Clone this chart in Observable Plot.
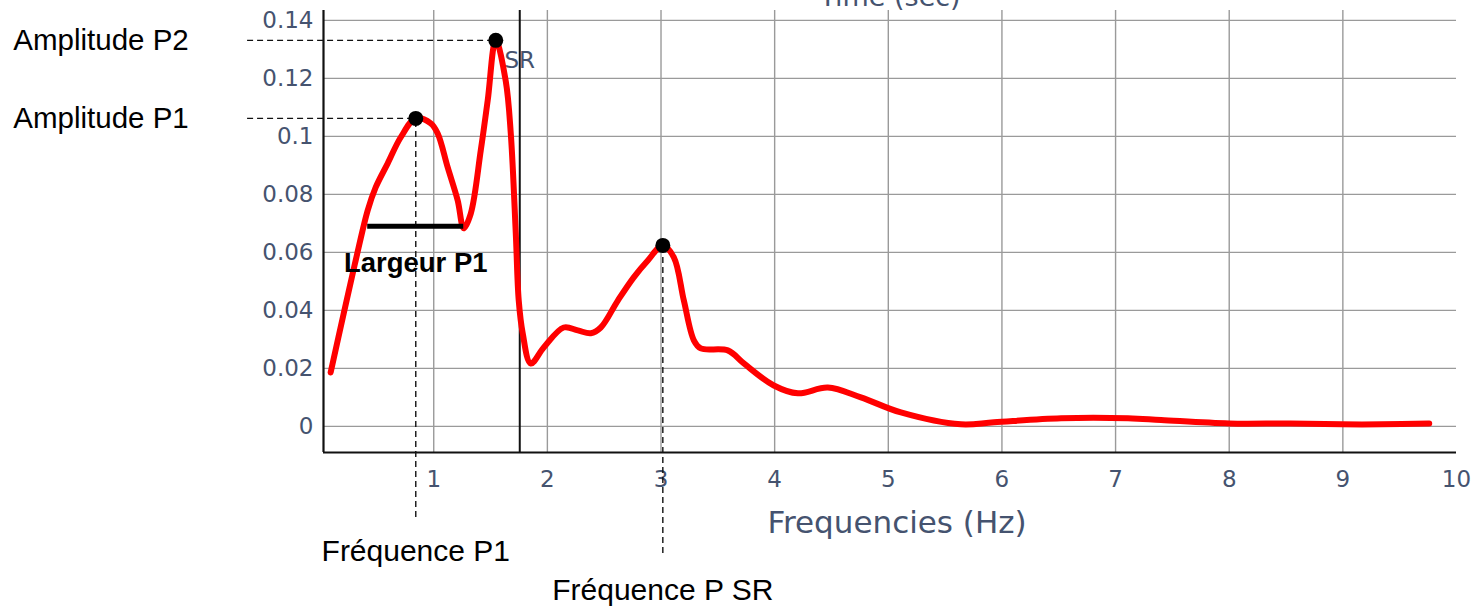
<!DOCTYPE html>
<html>
<head>
<meta charset="utf-8">
<script src="https://cdn.jsdelivr.net/npm/d3@7"></script>
<script src="https://cdn.jsdelivr.net/npm/@observablehq/plot@0.6"></script>
<style>
  html, body { margin: 0; padding: 0; background: #fff; overflow: hidden; }
  #chart svg { display: block; overflow: visible; }
</style>
</head>
<body>
<div id="chart"></div>
<script>
// ---- data ----
const freq = [0.093,0.208,0.313,0.419,0.489,0.595,0.71,0.842,0.974,1.035,1.123,1.211,1.264,1.326,1.414,1.475,1.546,1.634,1.678,1.722,1.748,1.783,1.854,1.968,2.144,2.268,2.382,2.47,2.62,2.76,2.884,3.016,3.113,3.201,3.289,3.35,3.588,3.729,3.993,4.204,4.468,4.759,5.111,5.639,5.93,6.52,7.11,7.4,8.0,8.54,8.99,9.34,9.76];
const amp = [0.0186,0.039,0.0572,0.0745,0.0824,0.0907,0.0997,0.1062,0.1045,0.101,0.0893,0.0779,0.0683,0.0734,0.0952,0.1124,0.1331,0.119,0.101,0.0666,0.0434,0.0321,0.0217,0.0272,0.0341,0.0331,0.0321,0.0341,0.0434,0.0514,0.0572,0.0624,0.0583,0.0434,0.0297,0.0269,0.0262,0.0217,0.0141,0.0114,0.0134,0.01,0.0048,0.0007,0.0014,0.0028,0.0028,0.0022,0.001,0.001,0.0007,0.0007,0.001];

const peakNames = ["P1", "P2", "SR"];
const peakFreq = [0.842, 1.546, 3.016];
const peakAmp = [0.1062, 0.1331, 0.0624];

const srFreq = 1.757;
const widthP1 = {y: 0.069, x1: 0.419, x2: 1.264};

const xTicks = [1,2,3,4,5,6,7,8,9,10];
const xGrid = [1,2,3,4,5,6,7,8,9];
const yTicks = [0,0.02,0.04,0.06,0.08,0.1,0.12,0.14];

const xDomain = [0.03, 10];
const yDomain = [-0.009, 0.1434];

const titleText = "Time (sec)";
const xLabel = "Frequencies (Hz)";
const srLabel = "SR";
const widthLabel = "Largeur P1";
const ampLabels = ["Amplitude P1", "Amplitude P2"];
const freqLabels = ["Fréquence P1", "Fréquence P SR"];

// annotation anchors (data units)
const leftLabelX = -2.70;
const dashStartX = -0.638;
const dashEndY = [-0.0314, -0.0438];
const freqLabelY = [-0.0431, -0.0566];

// ---- build tables ----
const series = freq.map((f, i) => ({f, a: amp[i]}));
const peaks = peakNames.map((n, i) => ({name: n, f: peakFreq[i], a: peakAmp[i]}));
const ampPeaks = [peaks[0], peaks[1]];
const freqPeaks = [peaks[0], peaks[2]];

const tickColor = "#45536f";
const tickFont = "DejaVu Sans, Verdana, sans-serif";
const annFont = "Liberation Sans, Arial, sans-serif";

const chart = Plot.plot({
  width: 1474,
  height: 607,
  marginLeft: 323,
  marginRight: 18,
  marginTop: 10,
  marginBottom: 155,
  x: {domain: xDomain, axis: null},
  y: {domain: yDomain, axis: null},
  style: {background: "#fff"},
  marks: [
    // grid
    Plot.gridX(xGrid, {stroke: "#9a9a9a", strokeOpacity: 1, strokeWidth: 1.4}),
    Plot.gridY(yTicks, {stroke: "#9a9a9a", strokeOpacity: 1, strokeWidth: 1.4}),
    // axis lines
    Plot.ruleX([xDomain[0]], {stroke: "#111", strokeWidth: 2.2}),
    Plot.ruleY([yDomain[0]], {stroke: "#111", strokeWidth: 2.2}),
    // tick labels
    Plot.text(yTicks, {x: xDomain[0], y: d => d, text: d => String(+d.toFixed(2)), textAnchor: "end", dx: -10,
      fontSize: 23, fill: tickColor, fontFamily: tickFont}),
    Plot.text(xTicks, {x: d => d, y: yDomain[0], text: d => String(d), dy: 27,
      fontSize: 23, fill: tickColor, fontFamily: tickFont}),
    // axis title and cut top title
    Plot.text([xLabel], {frameAnchor: "bottom", text: d => d, dx: 7, dy: 80, fontSize: 31, fill: tickColor, fontFamily: tickFont}),
    Plot.text([titleText], {frameAnchor: "top", text: d => d, dy: -24, fontSize: 27, fill: tickColor, fontFamily: tickFont}),
    // SR vertical line
    Plot.ruleX([srFreq], {stroke: "#111", strokeWidth: 2}),
    Plot.text([srLabel], {x: srFreq, y: 0.126, text: d => d, fontSize: 23, fill: tickColor, fontFamily: tickFont}),
    // dashed annotation guides
    Plot.ruleY(ampPeaks, {y: "a", x1: dashStartX, x2: "f", stroke: "#111", strokeWidth: 1.4, strokeDasharray: "6,4"}),
    Plot.ruleX(freqPeaks, {x: "f", y1: (d, i) => dashEndY[i], y2: "a", stroke: "#111", strokeWidth: 1.4, strokeDasharray: "6,4"}),
    // curve
    Plot.line(series, {x: "f", y: "a", stroke: "#ff0000", strokeWidth: 6, curve: "catmull-rom"}),
    // width bar
    Plot.ruleY([widthP1], {y: "y", x1: "x1", x2: "x2", stroke: "#000", strokeWidth: 5}),
    Plot.text([widthLabel], {x: (widthP1.x1 + widthP1.x2) / 2, y: 0.0562, text: d => d, fontSize: 27.5, fontWeight: "bold",
      fill: "#000", fontFamily: annFont}),
    // peak dots
    Plot.dot(peaks, {x: "f", y: "a", r: 7.5, fill: "#000", stroke: null}),
    // annotation labels
    Plot.text(ampPeaks, {x: leftLabelX, y: "a", text: (d, i) => ampLabels[i], textAnchor: "start", fontSize: 29.5,
      fill: "#000", fontFamily: annFont}),
    Plot.text(freqPeaks, {x: "f", y: (d, i) => freqLabelY[i], text: (d, i) => freqLabels[i], fontSize: 30,
      fill: "#000", fontFamily: annFont})
  ]
});
document.getElementById("chart").append(chart);
</script>
</body>
</html>
